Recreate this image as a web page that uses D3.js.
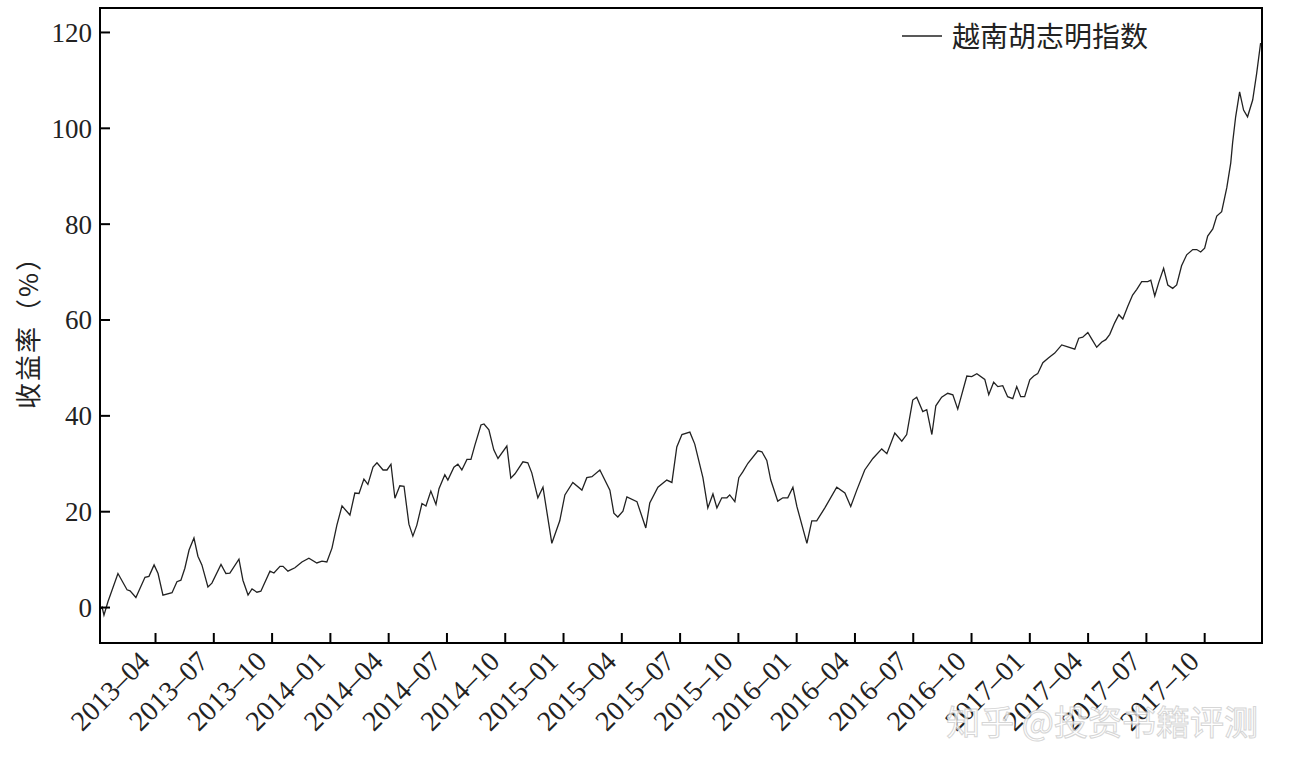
<!DOCTYPE html>
<html><head><meta charset="utf-8">
<script src="https://cdn.jsdelivr.net/npm/d3@7"></script>
<style>body{margin:0;background:#fff}</style></head>
<body><svg id="c" width="1294" height="774"></svg>
<script>
const times=[2013.014,2013.023,2013.031,2013.048,2013.091,2013.130,2013.143,2013.168,2013.207,2013.224,2013.246,2013.263,2013.284,2013.323,2013.344,2013.361,2013.378,2013.396,2013.417,2013.434,2013.451,2013.477,2013.494,2013.533,2013.554,2013.571,2013.610,2013.627,2013.649,2013.666,2013.687,2013.704,2013.743,2013.760,2013.786,2013.799,2013.820,2013.850,2013.880,2013.910,2013.944,2013.966,2013.987,
2014.009,2014.030,2014.052,2014.086,2014.107,2014.125,2014.146,2014.163,2014.185,2014.202,2014.228,2014.245,2014.262,2014.279,2014.300,2014.318,2014.339,2014.356,2014.373,2014.395,2014.412,2014.433,2014.455,2014.468,2014.493,2014.506,2014.532,2014.549,2014.566,2014.588,2014.605,2014.622,2014.648,2014.661,2014.682,2014.703,2014.721,2014.759,2014.776,2014.794,2014.828,2014.849,2014.866,2014.892,2014.914,2014.952,2014.986,
2015.008,2015.042,2015.081,2015.102,2015.124,2015.158,2015.201,2015.218,2015.235,2015.257,2015.274,2015.317,2015.355,2015.372,2015.407,2015.445,2015.467,2015.488,2015.510,2015.544,2015.565,2015.600,2015.621,2015.643,2015.660,2015.681,2015.703,2015.715,2015.737,2015.754,2015.771,2015.793,2015.836,2015.853,2015.874,2015.891,2015.921,2015.943,2015.964,2015.986,
2016.003,2016.046,2016.067,2016.088,2016.123,2016.174,2016.209,2016.234,2016.260,2016.294,2016.329,2016.367,2016.389,2016.423,2016.453,2016.474,2016.500,2016.517,2016.543,2016.560,2016.582,2016.599,2016.624,2016.650,2016.672,2016.693,2016.732,2016.753,2016.775,2016.809,2016.826,2016.847,2016.865,2016.886,2016.907,2016.929,2016.946,2016.963,2016.980,
2017.002,2017.019,2017.036,2017.058,2017.083,2017.109,2017.139,2017.165,2017.195,2017.212,2017.229,2017.251,2017.268,2017.289,2017.311,2017.328,2017.345,2017.366,2017.384,2017.401,2017.422,2017.443,2017.461,2017.482,2017.508,2017.521,2017.538,2017.555,2017.576,2017.594,2017.615,2017.632,2017.653,2017.675,2017.701,2017.718,2017.735,2017.752,2017.765,2017.787,2017.804,2017.825,2017.847,2017.864,2017.872,2017.885,2017.902,2017.919,2017.936,2017.958,2017.975,2017.992];
const values=[-0.5,0,-1.7,1.1,7,3.6,3.4,2,6.2,6.4,8.8,7,2.5,3,5.3,5.6,8.1,11.9,14.4,10.6,8.8,4.2,5,8.9,7,7.1,10,5.6,2.5,3.8,3.1,3.3,7.5,7.1,8.5,8.5,7.5,8.2,9.4,10.2,9.2,9.6,9.4,
12.3,17.1,21.1,19.2,23.8,23.7,26.7,25.6,29.2,30.1,28.6,28.6,29.8,22.7,25.3,25.2,17.3,14.8,17.1,21.6,21.1,24.2,21.4,24.7,27.6,26.5,29.2,29.8,28.6,30.8,30.8,33.8,38,38.2,37,32.8,31,33.6,26.9,27.8,30.3,30.1,28,22.8,25,13.3,18,
23.4,26,24.4,27,27.2,28.6,24.4,19.6,18.8,20,23,22,16.5,21.7,25,26.5,26,33.4,36,36.5,34,27,20.7,23.6,20.7,22.8,22.8,23.4,22,27,28.2,30,32.6,32.4,30.6,26.5,22.1,22.8,22.8,25,
21,13.3,18,18,20.7,25,23.8,21,24.4,28.6,31,33,32,36.3,34.6,36,43.2,43.8,40.8,41.2,36,42,43.8,44.6,44.3,41.3,48.2,48.1,48.7,47.5,44.3,46.9,46,46.2,43.9,43.5,46,43.9,43.9,
47.4,48.2,48.7,51,52,53,54.7,54.3,53.8,56.1,56.3,57.3,55.9,54.2,55.3,55.8,56.9,59.3,61,60.1,62.7,65.1,66.3,67.9,67.9,68.2,64.9,67.7,70.7,67.2,66.5,67.2,71.2,73.5,74.6,74.6,74.1,74.9,77.4,78.9,81.6,82.5,87.5,92.7,96.9,102.3,107.5,103.7,102.3,105.8,111.3,117.7];
const tickTimes=[2013.25,2013.5,2013.75,2014,2014.25,2014.5,2014.75,2015,2015.25,2015.5,2015.75,2016,2016.25,2016.5,2016.75,2017,2017.25,2017.5,2017.75];
const tickLabels=["2013–04","2013–07","2013–10","2014–01","2014–04","2014–07","2014–10","2015–01","2015–04","2015–07","2015–10","2016–01","2016–04","2016–07","2016–10","2017–01","2017–04","2017–07","2017–10"];
const yTicks=[0,20,40,60,80,100,120];
const seriesName="越南胡志明指数";
const yTitle="收益率（%）";

const L=100,R=1262,T=8,B=643;
const svg=d3.select("#c");
const x=d3.scaleLinear().domain([2013.014,2017.998]).range([L,R]);
const y=d3.scaleLinear().domain([-7.5,125]).range([B,T]);
const serif="'Liberation Serif','DejaVu Serif',serif";

svg.append("path").datum(times.map((t,i)=>[t,values[i]]))
 .attr("fill","none").attr("stroke","#222").attr("stroke-width",1.3)
 .attr("d",d3.line().x(d=>x(d[0])).y(d=>y(d[1])));

svg.append("rect").attr("x",L).attr("y",T).attr("width",R-L).attr("height",B-T)
 .attr("fill","none").attr("stroke","#000").attr("stroke-width",2);

const ya=svg.append("g").attr("transform",`translate(${L},0)`)
 .call(d3.axisRight(y).tickValues(yTicks).tickSize(10).tickFormat(d3.format("d")));
ya.select(".domain").remove();
ya.selectAll("line").attr("stroke","#000").attr("stroke-width",2);
ya.selectAll("text").attr("x",-8).attr("text-anchor","end").attr("dy","0.35em")
 .style("font-family",serif).style("font-size","27px").attr("fill","#222");

const xa=svg.append("g").attr("transform",`translate(0,${B})`)
 .call(d3.axisTop(x).tickValues(tickTimes).tickSize(10).tickFormat((d,i)=>tickLabels[i]));
xa.select(".domain").remove();
xa.selectAll("line").attr("stroke","#000").attr("stroke-width",2);
xa.selectAll("text").attr("text-anchor","end").attr("y",0).attr("dy",0)
 .attr("transform","translate(-4,20) rotate(-45)")
 .style("font-family",serif).style("font-size","28px").attr("fill","#222");

svg.append("text").attr("transform","translate(38,326) rotate(-90)").attr("text-anchor","middle")
 .style("font-family","'Noto Sans CJK SC',sans-serif").style("font-size","26px").style("letter-spacing","2px").attr("fill","#222").text(yTitle);

svg.append("line").attr("x1",902).attr("x2",942).attr("y1",36).attr("y2",36).attr("stroke","#222").attr("stroke-width",1.3);
svg.append("text").attr("x",952).attr("y",47).style("font-family","'Noto Sans CJK SC',sans-serif")
 .style("font-size","28px").attr("fill","#222").text(seriesName);

svg.append("text").attr("x",1258).attr("y",735).attr("text-anchor","end")
 .style("font-family","'Noto Sans CJK SC',sans-serif").style("font-size","34px")
 .attr("fill","#fff").attr("stroke","#ccc").attr("stroke-width",1).attr("opacity",0.8).text("知乎 @投资书籍评测");
</script></body></html>
